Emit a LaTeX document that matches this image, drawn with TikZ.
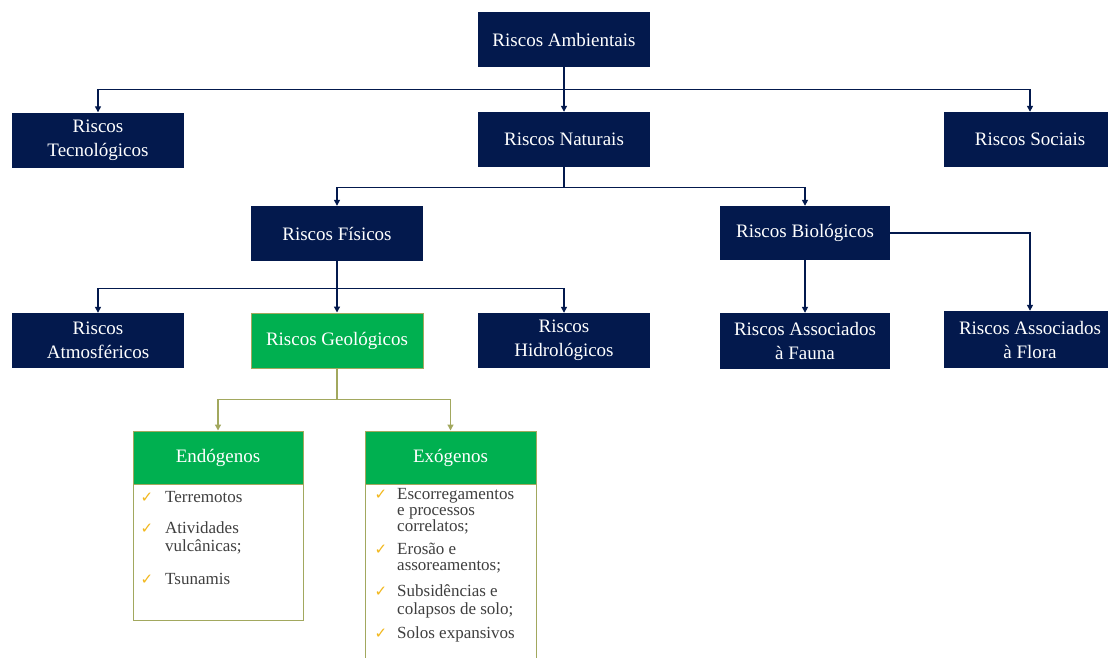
\documentclass[tikz,border=0pt]{standalone}
\usepackage{fontspec}
\setmainfont{Liberation Serif}
\newfontfamily\symbfont{DejaVu Sans}
\usetikzlibrary{arrows.meta}
\definecolor{riskblue}{HTML}{03194D}
\definecolor{riskgreen}{HTML}{00B050}
\definecolor{riskolive}{HTML}{A2A85E}
\definecolor{checkgold}{HTML}{F2B71B}
\definecolor{listgray}{HTML}{3F3F3F}
\tikzset{
  bluebox/.style={fill=riskblue, text=white, minimum width=172pt, minimum height=55pt,
    align=center, inner sep=2pt, font=\fontsize{19}{24}\selectfont},
  greenbox/.style={fill=riskgreen, draw=riskolive, line width=1pt, text=white,
    minimum width=172pt, minimum height=55pt, align=center, inner sep=2pt,
    font=\fontsize{19}{24}\selectfont},
  headbox/.style={greenbox, minimum width=170pt, minimum height=53pt},
  listbox/.style={draw=riskolive, line width=1pt, fill=white, minimum width=170pt, anchor=north},
  listitem/.style={anchor=north west, align=left, text=listgray, inner sep=0pt,
    font=\fontsize{17}{16}\selectfont},
  checkmark/.style={anchor=base, inner sep=0pt, text=checkgold, font=\symbfont\fontsize{15}{15}\selectfont},
  blueline/.style={draw=riskblue, line width=1.3pt, -{Triangle[length=6pt,width=6pt]}},
  oliveline/.style={draw=riskolive, line width=1.3pt, -{Triangle[length=6pt,width=6pt]}}
}
\begin{document}
\begin{tikzpicture}[x=1pt,y=-1pt]
\useasboundingbox[fill=white] (0,0) rectangle (1108,657);
% top levels
\node[bluebox] (amb) at (564,39.5) {Riscos Ambientais};
\node[bluebox] (tec) at (98,140) {Riscos\\Tecnológicos};
\node[bluebox] (nat) at (564,139.5) {Riscos Naturais};
\node[bluebox] (soc) at (1030,139.5) {Riscos Sociais};
\node[bluebox] (fis) at (337,233.5) {Riscos Físicos};
\node[bluebox, minimum width=170pt, minimum height=54pt] (bio) at (805,233) {Riscos Biológicos};
% third level
\node[bluebox] (atm) at (98,340.5) {Riscos\\Atmosféricos};
\node[greenbox] (geo) at (337,340.5) {Riscos Geológicos};
\node[bluebox] (hid) at (564,340.5) {Riscos\\Hidrológicos};
\node[bluebox, minimum width=170pt, minimum height=56pt] (fau) at (805,341) {Riscos Associados\\à Fauna};
\node[bluebox, minimum height=57pt] (flo) at (1030,339.5) {Riscos Associados\\à Flora};
% geological lists
\node[listbox, minimum height=136pt] (endobody) at (218,484) {};
\node[headbox] (endo) at (218,457.5) {Endógenos};
\node[listbox, minimum width=171pt, minimum height=185pt] (exobody) at (450.5,484) {};
\node[headbox, minimum width=171pt] (exo) at (450.5,457.5) {Exógenos};
\foreach \y/\txt [count=\i] in {502/Terremotos, 533/{Atividades\\vulcânicas;}, 584/Tsunamis}{
  \node[checkmark] (endock\i) at (147,\y) {✓};
  \node[listitem] (endoitem\i) at (165,\y-11.2) {\strut\txt};
}
\foreach \y/\txt [count=\i] in {499/{Escorregamentos\\e processos\\correlatos;}, 554/{Erosão e\\assoreamentos;},
    596/{Subsidências e\\colapsos de solo;}, 638/Solos expansivos}{
  \node[checkmark] (exock\i) at (381,\y) {✓};
  \node[listitem] (exoitem\i) at (397,\y-11.2) {\strut\txt};
}
% connectors
\draw[blueline] (amb.south) -- ++(0,22) -| (tec);
\draw[blueline] (amb) -- (nat);
\draw[blueline] (amb.south) -- ++(0,22) -| (soc);
\draw[blueline] (nat.south) -- ++(0,20) -| (fis);
\draw[blueline] (nat.south) -- ++(0,20) -| (bio);
\draw[blueline] (fis.south) -- ++(0,27) -| (atm);
\draw[blueline] (fis) -- (geo);
\draw[blueline] (fis.south) -- ++(0,27) -| (hid);
\draw[blueline] (bio) -- (fau);
\draw[blueline] (bio.east) -| (flo);
\draw[oliveline] (geo.south) -- ++(0,31) -| (endo);
\draw[oliveline] (geo.south) -- ++(0,31) -| (exo);
\end{tikzpicture}
\end{document}
